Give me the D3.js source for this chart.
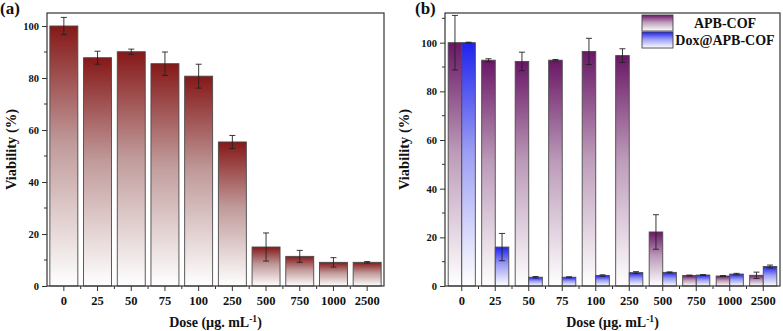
<!DOCTYPE html>
<html><head><meta charset="utf-8">
<script src="https://cdn.jsdelivr.net/npm/d3@7"></script>
<style>
html,body{margin:0;padding:0;background:#fff;}
svg{display:block;}
text{font-family:"Liberation Serif","Times New Roman",serif;font-weight:bold;fill:#111;}
</style></head>
<body>
<svg id="chart" width="783" height="331"></svg>
<script>
const categories = ["0","25","50","75","100","250","500","750","1000","2500"];
// Panel (a)
const aValues = [100, 87.8, 90.1, 85.5, 80.7, 55.4, 15.0, 11.4, 9.1, 9.1];
const aErrors = [3.3, 2.5, 1.0, 4.5, 4.6, 2.5, 5.4, 2.3, 1.8, 0.3];
// Panel (b)
const seriesNames = ["APB-COF", "Dox@APB-COF"];
const apbValues = [100, 92.8, 92.3, 92.8, 96.4, 94.7, 22.2, 4.3, 4.1, 4.4];
const apbErrors = [11.2, 0.6, 3.8, 0.3, 5.4, 2.8, 7.1, 0.2, 0.2, 1.3];
const doxValues = [100, 16.0, 3.6, 3.6, 4.3, 5.5, 5.6, 4.5, 4.9, 8.0];
const doxErrors = [0.2, 5.6, 0.3, 0.2, 0.3, 0.4, 0.2, 0.2, 0.3, 0.6];
const majorTicks = [0, 20, 40, 60, 80, 100];
const minorTicksA = [10, 30, 50, 70, 90];
const minorTicksB = [10, 30, 50, 70, 90, 110];

const svg = d3.select("#chart");
const defs = svg.append("defs");
function grad(id, top, mid){
  const g = defs.append("linearGradient").attr("id", id)
    .attr("x1",0).attr("y1",0).attr("x2",0).attr("y2",1);
  g.append("stop").attr("offset","0%").attr("stop-color",top);
  g.append("stop").attr("offset","45%").attr("stop-color",mid);
  g.append("stop").attr("offset","100%").attr("stop-color","#ffffff");
}
grad("gRed", "#861818", "#c09a9a");
grad("gPurple", "#6a1766", "#bc9bb9");
grad("gBlue", "#1e22ee", "#9c9ef4");

const frameColor = "#333";

function panel(opts){
  const {left, right, top, bottom, ymax, minor} = opts;
  const g = svg.append("g");
  const x = d3.scaleBand().domain(categories).range([left, right]).paddingInner(0).paddingOuter(0);
  const y = d3.scaleLinear().domain([0, ymax]).range([bottom, top]);

  const xa = g.append("g").attr("transform", `translate(0,${bottom})`)
    .call(d3.axisBottom(x).tickSize(5).tickPadding(5));
  xa.select(".domain").remove();
  xa.selectAll(".tick line").attr("stroke", frameColor).attr("stroke-width", 1);
  xa.selectAll(".tick text").attr("font-size", 12.5).attr("fill", "#111");
  const bounds = categories.slice(1).map(c => x(c));
  g.selectAll(null).data(bounds).enter().append("line")
    .attr("x1", d => d).attr("x2", d => d).attr("y1", bottom).attr("y2", bottom + 3)
    .attr("stroke", frameColor);

  const ya = g.append("g").attr("transform", `translate(${left},0)`)
    .call(d3.axisLeft(y).tickValues(majorTicks).tickSize(5).tickPadding(3));
  ya.select(".domain").remove();
  ya.selectAll(".tick line").attr("stroke", frameColor);
  ya.selectAll(".tick text").attr("font-size", 10.5).attr("fill", "#111");
  g.selectAll(null).data(minor).enter().append("line")
    .attr("x1", left - 3).attr("x2", left).attr("y1", d => y(d)).attr("y2", d => y(d))
    .attr("stroke", frameColor);

  return {g, x, y};
}

function drawBars(g, x0, y, values, errors, fill, sub, key){
  const bw = sub ? sub.bandwidth() : x0.bandwidth();
  const xpos = (c) => sub ? x0(c) + sub(key) : x0(c);
  const bars = g.append("g");
  bars.selectAll("rect").data(categories).enter().append("rect")
    .attr("x", c => xpos(c))
    .attr("y", (c,i) => y(values[i]))
    .attr("width", bw)
    .attr("height", (c,i) => y(0) - y(values[i]))
    .attr("fill", `url(#${fill})`)
    .attr("stroke", "#4a4a4a").attr("stroke-width", 0.9);
  const eb = g.append("g").attr("stroke", "#222").attr("stroke-width", 0.9);
  categories.forEach((c,i) => {
    const cx = xpos(c) + bw/2;
    const y1 = y(values[i] + errors[i]), y2 = y(values[i] - errors[i]);
    eb.append("line").attr("x1", cx).attr("x2", cx).attr("y1", y1).attr("y2", y2);
    eb.append("line").attr("x1", cx-3).attr("x2", cx+3).attr("y1", y1).attr("y2", y1);
    eb.append("line").attr("x1", cx-3).attr("x2", cx+3).attr("y1", y2).attr("y2", y2);
  });
}

function frame(left, right, top, bottom){
  svg.append("rect").attr("x", left).attr("y", top).attr("width", right-left).attr("height", bottom-top)
    .attr("fill", "none").attr("stroke", frameColor).attr("stroke-width", 1.2);
}

function titles(left, right, top, bottom, yx, label, lx){
  const cx = (left + right)/2;
  const t = svg.append("text").attr("x", cx).attr("y", 327).attr("text-anchor", "middle").attr("font-size", 14);
  t.append("tspan").text("Dose (µg. mL");
  t.append("tspan").attr("baseline-shift", "super").attr("font-size", 9.5).text("-1");
  t.append("tspan").text(")");
  svg.append("text").attr("transform", `translate(${yx},${(top+bottom)/2}) rotate(-90)`)
    .attr("text-anchor", "middle").attr("font-size", 14.5).text("Viability (%)");
  svg.append("text").attr("x", lx).attr("y", 14).attr("font-size", 17).text(label);
}

// Panel (a)
const A = {left: 47, right: 384, top: 13, bottom: 286, ymax: 105, minor: minorTicksA};
const pa = panel(A);
pa.x.paddingInner(0.17).paddingOuter(0.085);
drawBars(pa.g, pa.x, pa.y, aValues, aErrors, "gRed");
frame(A.left, A.right, A.top, A.bottom);
titles(A.left, A.right, A.top, A.bottom, 16, "(a)", 0);

// Panel (b)
const B = {left: 445, right: 780, top: 13, bottom: 286, ymax: 112.2, minor: minorTicksB};
const pb = panel(B);
const xb = pb.x.copy().paddingInner(0.19).paddingOuter(0.095);
const sub = d3.scaleBand().domain(seriesNames).range([0, xb.bandwidth()]).padding(0);
drawBars(pb.g, xb, pb.y, apbValues, apbErrors, "gPurple", sub, seriesNames[0]);
drawBars(pb.g, xb, pb.y, doxValues, doxErrors, "gBlue", sub, seriesNames[1]);
frame(B.left, B.right, B.top, B.bottom);
titles(B.left, B.right, B.top, B.bottom, 409, "(b)", 415);

// Legend
const leg = svg.append("g");
const legFills = ["gPurple", "gBlue"];
seriesNames.forEach((n, i) => {
  const yy = 15 + i*17;
  leg.append("rect").attr("x", 642).attr("y", yy).attr("width", 31).attr("height", 16)
    .attr("fill", `url(#${legFills[i]})`).attr("stroke", "#444").attr("stroke-width", 0.9);
  leg.append("text").attr("x", 725).attr("y", yy + 13).attr("text-anchor", "middle")
    .attr("font-size", 14).text(n);
});
</script>
</body></html>
